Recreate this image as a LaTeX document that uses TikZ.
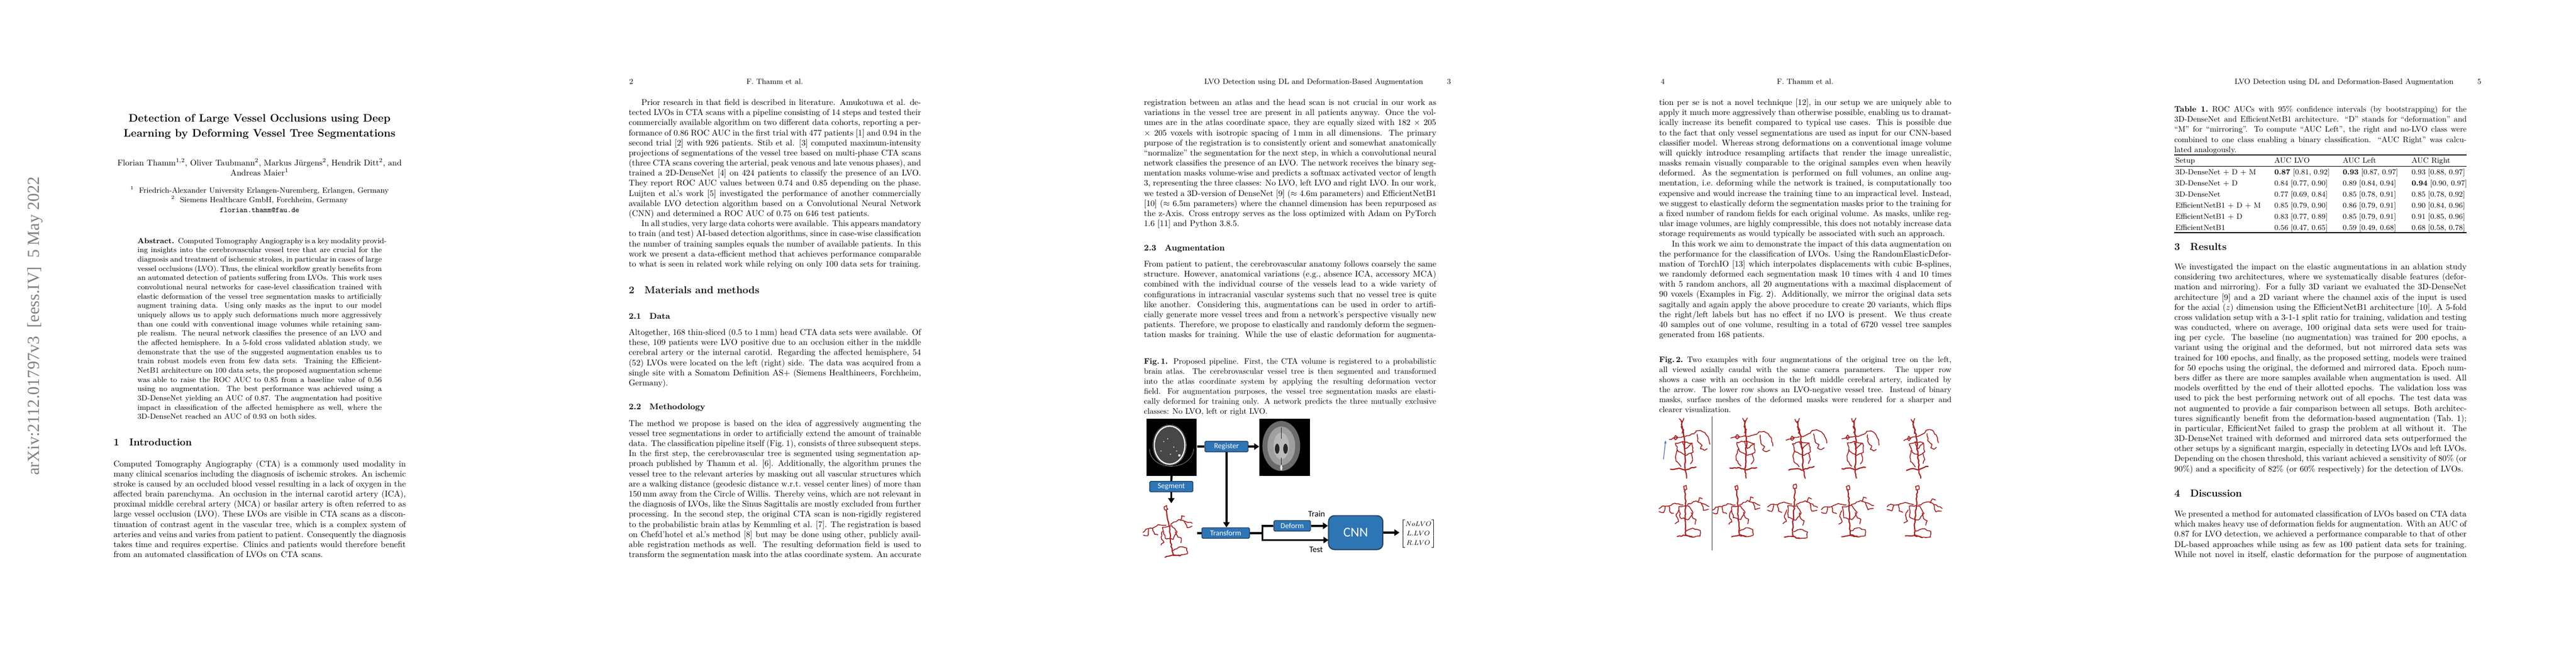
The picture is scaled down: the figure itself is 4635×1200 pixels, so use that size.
\documentclass[tikz,border=0pt]{standalone}
\usepackage{amsmath}
\usepackage{fontspec}
\usepackage{tikz}
\usetikzlibrary{arrows.meta,decorations.pathmorphing}
\newfontfamily\carlito{Carlito}
\newfontfamily\stampfont{Liberation Serif}
\definecolor{stepblue}{RGB}{46,117,182}
\definecolor{stepedge}{RGB}{37,64,97}
\definecolor{vesselred}{RGB}{168,30,30}
\definecolor{arrowblue}{RGB}{68,114,196}

\newcommand{\bodypar}[1]{\vtop{\hsize=12.2cm\parindent=15pt\fontsize{10}{12}\selectfont #1\par}}
\newcommand{\cappar}[1]{\vtop{\hsize=12.2cm\parindent=0pt\fontsize{9.5}{12}\selectfont #1\par}}
\newcommand{\abspar}[1]{\vtop{\hsize=10.2cm\parindent=0pt\fontsize{9}{11}\selectfont #1\par}}
\newcommand{\secthead}[2]{{\fontsize{12}{14}\selectfont\bfseries #1\quad #2}}
\newcommand{\subsecthead}[2]{{\fontsize{10}{12}\selectfont\bfseries #1\quad #2}}
\newcommand{\lb}{\linebreak}

\tikzset{
  txt/.style={inner sep=0pt, anchor=base west},
  runhead/.style={inner sep=0pt, anchor=base, font=\fontsize{9}{11}\selectfont},
  stepbox/.style={draw=stepedge, line width=0.9pt, fill=stepblue, text=white, rounded corners=1.2pt,
    font=\carlito\fontsize{9}{10}\selectfont, inner sep=0pt, minimum width=51.3pt, minimum height=12.5pt},
  cnnbox/.style={draw=stepedge, line width=1.3pt, fill=stepblue, text=white, rounded corners=7pt,
    font=\carlito\fontsize{16}{18}\selectfont, inner sep=0pt, minimum width=64.5pt, minimum height=40.3pt},
  steplabel/.style={inner sep=0pt, font=\carlito\fontsize{10}{12}\selectfont},
  scanbox/.style={fill=black, inner sep=0pt, minimum width=60pt, minimum height=68pt},
  flow/.style={line width=2.4pt},
  flowarrow/.style={flow, -{Triangle[length=6pt,width=7.5pt]}},
  vessel/.style={draw=vesselred, line width=1pt, line cap=round, line join=round,
    decorate, decoration={random steps, segment length=2.6pt, amplitude=0.75pt}},
  vtreeA/.pic={
    \pgfmathsetseed{#1}
    \draw[vessel, line width=1.5pt] (-4,36) -- (-4,12) -- (-5,-19) -- (-9,-40) -- (-10,-50);
    \draw[vessel] (-14,-54) -- (-10,-47) -- (-6,-55);
    \draw[vessel] (-11,-40) -- (-6,-34) -- (-9,-28);
    \draw[vessel, line width=1.4pt] (-30,37) -- (-14,35) -- (-4,38) -- (8,34) -- (16,33);
    \draw[vessel, line width=1.3pt] (-4,38) -- (-1,53);
    \draw[vessel] (-21,-10) -- (-8,-13) -- (9,-10) -- (11,6) -- (-2,12) -- (-16,5) -- cycle;
    \draw[vessel] (-8,-13) -- (-3,0) -- (9,-10);
    \draw[vessel] (-32,-17) -- (-20,-20) -- (-7,-22);
    \draw[vessel] (-24,-19) -- (-21,-24) -- (-17,-20) -- (-21,-16) -- cycle;
    \draw[vessel] (-4,-22) -- (6,-25) -- (12,-27) -- (16,-32);
    \draw[vessel] (16,-32) -- (24,-33) -- (32,-29) -- (38,-20) -- (41,-8);
    \draw[vessel] (18,-26) -- (20,-12) -- (27,-6) -- (24,0) -- (31,3) -- (36,0);
    \draw[vessel] (-18,2) -- (-21,14) -- (-20,22) -- (-11,32);
    \draw[vessel] (7,8) -- (10,20) -- (6,27);
  },
  vtreeB/.pic={
    \pgfmathsetseed{#1}
    \draw[vessel, line width=1.4pt] (0,-44) -- (1,-17) -- (0,10) -- (1,37);
    \draw[vessel] (-2,-44) -- (-3,-50) -- (2,-52) -- (3,-45) -- cycle;
    \draw[vessel] (-4,-17) -- (-18,-20) -- (-29,-15) -- (-41,-15) -- (-47,-10);
    \draw[vessel] (-36,-14) -- (-39,-3) -- (-47,-5);
    \draw[vessel] (-29,-15) -- (-27,-4) -- (-21,-2);
    \draw[vessel] (4,-17) -- (20,-24) -- (29,-20) -- (43,-14);
    \draw[vessel] (29,-20) -- (33,-7) -- (42,-9);
    \draw[vessel] (23,-22) -- (26,-30) -- (31,-28);
    \draw[vessel] (-11,-14) -- (6,-15) -- (14,-3) -- (5,10) -- (-9,6) -- cycle;
    \draw[vessel] (-12,-7) -- (-16,3) -- (-12,13) -- (-18,17);
    \draw[vessel] (11,-3) -- (14,7) -- (20,10) -- (18,18);
    \draw[vessel] (2,30) -- (14,25) -- (27,29) -- (27,39) -- (12,41) -- (2,37);
    \draw[vessel, line width=1.3pt] (-14,40) -- (0,38) -- (14,41);
  }
}

\begin{document}
\begin{tikzpicture}[x=0.66pt, y=-0.66pt]
\fill[white] (0,0) rectangle (4635,1200);
\useasboundingbox (0,0) rectangle (4635,1200);

% page 1
\node[rotate=90, anchor=base east, inner sep=0pt, text=gray,
  font=\stampfont\fontsize{20}{24}\selectfont] (stamp) at (70,318) {arXiv:2112.01797v3\ \ [eess.IV]\ \ 5 May 2022};
\node[runhead, font=\fontsize{13}{16}\selectfont\bfseries] (title1) at (467,219) {Detection of Large Vessel Occlusions using Deep};
\node[runhead, font=\fontsize{13}{16}\selectfont\bfseries] (title2) at (467,246) {Learning by Deforming Vessel Tree Segmentations};
\node[runhead, font=\fontsize{10}{12}\selectfont] (authors1) at (467,298) {Florian Thamm$^{1,2}$, Oliver Taubmann$^2$, Markus Jürgens$^2$, Hendrik Ditt$^2$, and};
\node[runhead, font=\fontsize{10}{12}\selectfont] (authors2) at (467,316) {Andreas Maier$^1$};
\node[runhead] (affil1) at (467,347) {$^1$\ \ Friedrich-Alexander University Erlangen-Nuremberg, Erlangen, Germany};
\node[runhead] (affil2) at (467,364) {$^2$\ \ Siemens Healthcare GmbH, Forchheim, Germany};
\node[runhead, font=\fontsize{9}{11}\selectfont\ttfamily] (email) at (467,382) {florian.thamm@fau.de};
\node[txt] (abstract) at (247.1,438) {\abspar{\textbf{Abstract.}\enspace Computed Tomography Angiography is a key modality provid\-ing insights into the cerebrovascular vessel tree that are crucial for the diagnosis and treatment of ischemic strokes, in particular in cases of large vessel occlusions (LVO). Thus, the clinical workflow greatly benefits from an automated detection of patients suffering from LVOs. This work uses convolutional neural networks for case-level classification trained with elastic deformation of the vessel tree segmentation masks to artificially augment training data. Using only masks as the input to our model uniquely allows us to apply such deformations much more aggressively than one could with conventional image volumes while retaining sample realism. The neural network classifies the presence of an LVO and the affected hemisphere. In a 5-fold cross validated ablation study, we demonstrate that the use of the suggested augmentation enables us to train robust models even from few data sets. Training the EfficientNetB1 architecture on 100 data sets, the proposed augmentation scheme was able to raise the ROC AUC to 0.85 from a baseline value of 0.56 using no augmentation. The best performance was achieved using a 3D-DenseNet yielding an AUC of 0.87. The augmentation had positive impact in classification of the affected hemisphere as well, where the 3D-DenseNet reached an AUC of 0.93 on both sides.}};
\node[txt] (introhead) at (204,802) {\secthead{1}{Introduction}};
\node[txt] (intro) at (204,840) {\bodypar{\noindent Computed Tomography Angiography (CTA) is a commonly used modality in many clinical scenarios including the diagnosis of ischemic strokes. An ischemic stroke is caused by an occluded blood vessel resulting in a lack of oxygen in the affected brain parenchyma. An occlusion in the internal carotid artery (ICA), proximal middle cerebral artery (MCA) or basilar artery is often referred to as large vessel occlusion (LVO). These LVOs are visible in CTA scans as a discontinuation of contrast agent in the vascular tree, which is a complex system of arteries and veins and varies from patient to patient. Consequently the diagnosis takes time and requires expertise. Clinics and patients would therefore benefit from an automated classification of LVOs on CTA scans.}};

% page 2
\begin{scope}[shift={(927,0)}]
\node[txt, font=\fontsize{9}{11}\selectfont] (pnum2) at (205,151) {2};
\node[runhead] (rhead2) at (467,151) {F. Thamm et al.};
\node[txt] (prior) at (204,189.5) {\bodypar{Prior research in that field is described in literature. Amukotuwa et al. de-\lb tected LVOs in CTA scans with a pipeline consisting of 14 steps and tested their \lb commercially available algorithm on two different data cohorts, reporting a per-\lb formance of 0.86 ROC AUC in the first trial with 477 patients [1] and 0.94 in the \lb second trial [2] with 926 patients. Stib et al. [3] computed maximum-intensity \lb projections of segmentations of the vessel tree based on multi-phase CTA scans \lb (three CTA scans covering the arterial, peak venous and late venous phases), and \lb trained a 2D-DenseNet [4] on 424 patients to classify the presence of an LVO. \lb They report ROC AUC values between 0.74 and 0.85 depending on the phase. \lb Luijten et al.'s work [5] investigated the performance of another commercially \lb available LVO detection algorithm based on a Convolutional Neural Network \lb (CNN) and determined a ROC AUC of 0.75 on 646 test patients.\par
In all studies, very large data cohorts were available. This appears mandatory to train (and test) AI-based detection algorithms, since in case-wise classification the number of training samples equals the number of available patients. In this work we present a data-efficient method that achieves performance comparable to what is seen in related work while relying on only 100 data sets for training.}};
\node[txt] (mathead) at (204,528) {\secthead{2}{Materials and methods}};
\node[txt] (datahead) at (204,574) {\subsecthead{2.1}{Data}};
\node[txt] (data) at (204,603.5) {\bodypar{\noindent Altogether, 168 thin-sliced (0.5 to 1\,mm) head CTA data sets were available. Of these, 109 patients were LVO positive due to an occlusion either in the middle cerebral artery or the internal carotid. Regarding the affected hemisphere, 54 (52) LVOs were located on the left (right) side. The data was acquired from a single site with a Somatom Definition AS+ (Siemens Healthineers, Forchheim, Germany).}};
\node[txt] (methhead) at (204,737.7) {\subsecthead{2.2}{Methodology}};
\node[txt] (method) at (204,767.2) {\bodypar{\noindent The method we propose is based on the idea of aggressively augmenting the \lb vessel tree segmentations in order to artificially extend the amount of trainable \lb data. The classification pipeline itself (Fig.~1), consists of three subsequent steps. \lb In the first step, the cerebrovascular tree is segmented using segmentation ap-\lb proach published by Thamm et al. [6]. Additionally, the algorithm prunes the \lb vessel tree to the relevant arteries by masking out all vascular structures which \lb are a walking distance (geodesic distance w.r.t.\ vessel center lines) of more than \lb 150\,mm away from the Circle of Willis. Thereby veins, which are not relevant in \lb the diagnosis of LVOs, like the Sinus Sagittalis are mostly excluded from further \lb processing. In the second step, the original CTA scan is non-rigidly registered \lb to the probabilistic brain atlas by Kemmling et al. [7]. The registration is based \lb on Chefd'hotel et al.'s method [8] but may be done using other, publicly avail-\lb able registration methods as well. The resulting deformation field is used to \lb transform the segmentation mask into the atlas coordinate system. An accurate\parfillskip=0pt}};
\end{scope}

% page 3
\begin{scope}[shift={(1854,0)}]
\node[runhead, anchor=base east] (rhead3) at (707,151) {LVO Detection using DL and Deformation-Based Augmentation};
\node[runhead] (pnum3) at (753,151) {3};
\node[txt] (regtext) at (204,189.5) {\bodypar{\noindent registration between an atlas and the head scan is not crucial in our work as variations in the vessel tree are present in all patients anyway. Once the volumes are in the atlas coordinate space, they are equally sized with 182 $\times$ 205 $\times$ 205 voxels with isotropic spacing of 1\,mm in all dimensions. The primary purpose of the registration is to consistently orient and somewhat anatomically ``normalize'' the segmentation for the next step, in which a convolutional neural network classifies the presence of an LVO. The network receives the binary segmentation masks volume-wise and predicts a softmax activated vector of length 3, representing the three classes: No LVO, left LVO and right LVO. In our work, we tested a 3D-version of DenseNet [9] ($\approx$ 4.6m parameters) and EfficientNetB1 [10] ($\approx$ 6.5m parameters) where the channel dimension has been repurposed as the z-Axis. Cross entropy serves as the loss optimized with Adam on PyTorch 1.6 [11] and Python 3.8.5.}};
\node[txt] (aughead) at (204,451) {\subsecthead{2.3}{Augmentation}};
\node[txt] (augtext) at (204,480.6) {\bodypar{\noindent From patient to patient, the cerebrovascular anatomy follows coarsely the same structure. However, anatomical variations (e.g., absence ICA, accessory MCA) combined with the individual course of the vessels lead to a wide variety of configurations in intracranial vascular systems such that no vessel tree is quite like another. Considering this, augmentations can be used in order to artificially generate more vessel trees and from a network's perspective visually new patients. Therefore, we propose to elastically and randomly deform the segmentation masks for training. While the use of elastic deformation for augmenta-\parfillskip=0pt}};
\node[txt] (figcap1) at (204,655) {\cappar{\textbf{Fig.\,1.} Proposed pipeline. First, the CTA volume is registered to a probabilistic \lb brain atlas. The cerebrovascular vessel tree is then segmented and transformed \lb into the atlas coordinate system by applying the resulting deformation vector \lb field. For augmentation purposes, the vessel tree segmentation masks are elasti-\lb cally deformed for training only. A network predicts the three mutually exclusive \lb classes: No LVO, left or right LVO.}};
% pipeline
\node[scanbox] (cta) at (254,805) {};
\draw[white, line width=1.5pt, fill=black!72] (250.5,801.5) ellipse [x radius=27.6, y radius=34.3];
\draw[gray!80, line width=0.4pt] (250.5,801.5) ellipse [x radius=30, y radius=36.5];
\foreach \sx/\sy in {240/795, 247/790, 258/805, 263/812, 235/812, 252/818}
  \fill[white!80!gray] (\sx,\sy) circle (1.1);
\fill[white] (268,820) circle (2.2);
\draw[gray!70, line width=0.4pt] (214,808) .. controls (216,850) and (290,850) .. (294,808);
\node[scanbox] (atlas) at (457.5,805) {};
\fill[gray!55!black!80] (451.4,803) ellipse [x radius=34, y radius=45];
\fill[gray!75] (451.4,803) ellipse [x radius=25, y radius=35];
\fill[gray!55] (451.4,803) ellipse [x radius=14, y radius=24];
\fill[black!85] (444,808) ellipse [x radius=4, y radius=9];
\fill[black!85] (459,808) ellipse [x radius=4, y radius=9];
\draw[black!85, line width=1pt] (451.4,770) -- (451.4,790) (451.4,824) -- (451.4,846);
\fill[white!85!gray] (451.4,842) ellipse [x radius=2, y radius=5];
\node[stepbox] (reg) at (352.8,804.1) {Register};
\node[stepbox] (seg) at (253.5,876.2) {Segment};
\node[stepbox, minimum width=56.6pt] (trans) at (351.3,959.7) {Transform};
\node[stepbox, minimum width=43.5pt] (def) at (471,946.8) {Deform};
\node[cnnbox] (cnn) at (585.3,959) {CNN};
\node[steplabel] (train) at (515,925) {Train};
\node[steplabel] (test) at (514,990) {Test};
\node[inner sep=0pt, font=\fontsize{8}{11.3}\selectfont] (vec) at (698,961) {$\begin{bmatrix}NoLVO\\ L.LVO\\ R.LVO\end{bmatrix}$};
\pic[rotate=8] at (250.5,962) {vtreeB=11};
\coordinate (treetop) at (253.5,906);
\coordinate (treeout) at (299.6,959.7);
\coordinate (split) at (417.4,959.7);
\coordinate (testin) at (536.4,972.4);
\coordinate (vecin) at (664,959);
\draw[flow] (cta.east |- reg.west) -- (reg.west);
\draw[flowarrow] (reg.east) -- (atlas.west |- reg.east);
\draw[flowarrow] (reg.south) -- (reg.south |- trans.north);
\draw[flow] (cta.south) -- (seg.north);
\draw[flowarrow] (seg.south) -- (treetop);
\draw[flow] (treeout) -- (trans.west);
\draw[flow] (trans.east) -- (split);
\draw[flow] (split) |- (def.west);
\draw[flowarrow] (def.east) -- (cnn.west |- def.east);
\draw[flowarrow] (split) |- (testin);
\draw[flowarrow] (cnn.east) -- (vecin);
\end{scope}

% page 4
\begin{scope}[shift={(2781,0)}]
\node[txt, font=\fontsize{9}{11}\selectfont] (pnum4) at (207,151) {4};
\node[runhead] (rhead4) at (467,151) {F. Thamm et al.};
\node[txt] (augcont) at (204,189.5) {\bodypar{\noindent tion per se is not a novel technique [12], in our setup we are uniquely able to \lb apply it much more aggressively than otherwise possible, enabling us to dramat-\lb ically increase its benefit compared to typical use cases. This is possible due \lb to the fact that only vessel segmentations are used as input for our CNN-based \lb classifier model. Whereas strong deformations on a conventional image volume \lb will quickly introduce resampling artifacts that render the image unrealistic, \lb masks remain visually comparable to the original samples even when heavily \lb deformed. As the segmentation is performed on full volumes, an online aug-\lb mentation, i.e.\ deforming while the network is trained, is computationally too \lb expensive and would increase the training time to an impractical level. Instead, \lb we suggest to elastically deform the segmentation masks prior to the training for \lb a fixed number of random fields for each original volume. As masks, unlike reg-\lb ular image volumes, are highly compressible, this does not notably increase data \lb storage requirements as would typically be associated with such an approach.\par
In this work we aim to demonstrate the impact of this data augmentation on the performance for the classification of LVOs. Using the RandomElasticDeformation of TorchIO [13] which interpolates displacements with cubic B-splines, we randomly deformed each segmentation mask 10 times with 4 and 10 times with 5 random anchors, all 20 augmentations with a maximal displacement of 90 voxels (Examples in Fig.~2). Additionally, we mirror the original data sets sagitally and again apply the above procedure to create 20 variants, which flips the right/left labels but has no effect if no LVO is present. We thus create 40 samples out of one volume, resulting in a total of 6720 vessel tree samples generated from 168 patients.}};
\node[txt] (figcap2) at (204,652) {\cappar{\textbf{Fig.\,2.}\enspace Two examples with four augmentations of the original tree on the left, \lb all viewed axially caudal with the same camera parameters. The upper row \lb shows a case with an occlusion in the left middle cerebral artery, indicated by \lb the arrow. The lower row shows an LVO-negative vessel tree. Instead of binary \lb masks, surface meshes of the deformed masks were rendered for a sharper and \lb clearer visualization.}};
\coordinate (septop) at (299,750);
\coordinate (sepbot) at (299,991);
\draw[black!75, line width=0.6pt] (septop) -- (sepbot);
\pic at (254.7,808) {vtreeA=1};
\pic[rotate=-4, xscale=1.05] at (365.4,808) {vtreeA=2};
\pic[rotate=3] at (465.4,808) {vtreeA=3};
\pic[xscale=0.92, rotate=-2] at (561.9,808) {vtreeA=4};
\pic[xscale=0.85, rotate=4] at (672.6,808) {vtreeA=5};
\pic at (251,926) {vtreeB=6};
\pic[rotate=3, xscale=0.95] at (345.8,926) {vtreeB=7};
\pic[rotate=-3, yscale=1.05] at (445.8,926) {vtreeB=8};
\pic[rotate=2, xscale=1.05] at (545.8,926) {vtreeB=9};
\pic[rotate=-4, xscale=1.1] at (665.4,926) {vtreeB=10};
\coordinate (occfrom) at (212,827);
\coordinate (occto) at (216,793);
\draw[arrowblue, line width=0.8pt, -{Stealth[length=4pt,width=3pt]}] (occfrom) -- (occto);
\end{scope}

% page 5
\begin{scope}[shift={(3708,0)}]
\node[runhead, anchor=base east] (rhead5) at (707,151) {LVO Detection using DL and Deformation-Based Augmentation};
\node[runhead] (pnum5) at (753,151) {5};
\node[txt] (tabcap) at (204,201.5) {\cappar{\textbf{Table 1.}\enspace ROC AUCs with 95\% confidence intervals (by bootstrapping) for the \lb 3D-DenseNet and EfficientNetB1 architecture. ``D'' stands for ``deformation'' and \lb ``M'' for ``mirroring''. To compute ``AUC Left'', the right and no-LVO class were \lb combined to one class enabling a binary classification. ``AUC Right'' was calcu-\lb lated analogously.}};
\draw[line width=0.8pt] (204,279) -- (730,279);
\draw[line width=0.5pt] (204,299) -- (730,299);
\draw[line width=0.8pt] (204,419) -- (730,419);
\foreach \cx/\ct [count=\c] in {206/Setup, 384/AUC LVO, 507/AUC Left, 631/AUC Right}
  \node[txt, font=\fontsize{9}{11}\selectfont] (th\c) at (\cx,293) {\ct};
\foreach \su/\lv/\lf/\rt [count=\r] in {
  {3D-DenseNet + D + M}/{\textbf{0.87} [0.81, 0.92]}/{\textbf{0.93} [0.87, 0.97]}/{0.93 [0.88, 0.97]},
  {3D-DenseNet + D}/{0.84 [0.77, 0.90]}/{0.89 [0.84, 0.94]}/{\textbf{0.94} [0.90, 0.97]},
  {3D-DenseNet}/{0.77 [0.69, 0.84]}/{0.85 [0.78, 0.91]}/{0.85 [0.78, 0.92]},
  {EfficientNetB1 + D + M}/{0.85 [0.79, 0.90]}/{0.86 [0.79, 0.91]}/{0.90 [0.84, 0.96]},
  {EfficientNetB1 + D}/{0.83 [0.77, 0.89]}/{0.85 [0.79, 0.91]}/{0.91 [0.85, 0.96]},
  {EfficientNetB1}/{0.56 [0.47, 0.65]}/{0.59 [0.49, 0.68]}/{0.68 [0.58, 0.78]}} {
  \node[txt, font=\fontsize{9}{11}\selectfont] (su\r) at (206,294+20*\r) {\su};
  \node[txt, font=\fontsize{9}{11}\selectfont] (lv\r) at (384,294+20*\r) {\lv};
  \node[txt, font=\fontsize{9}{11}\selectfont] (lf\r) at (507,294+20*\r) {\lf};
  \node[txt, font=\fontsize{9}{11}\selectfont] (rt\r) at (631,294+20*\r) {\rt};
}
\node[txt] (reshead) at (204,450) {\secthead{3}{Results}};
\node[txt] (results) at (204,485.5) {\bodypar{\noindent We investigated the impact on the elastic augmentations in an ablation study considering two architectures, where we systematically disable features (deformation and mirroring). For a fully 3D variant we evaluated the 3D-DenseNet architecture [9] and a 2D variant where the channel axis of the input is used for the axial ($z$) dimension using the EfficientNetB1 architecture [10]. A 5-fold cross validation setup with a 3-1-1 split ratio for training, validation and testing was conducted, where on average, 100 original data sets were used for training per cycle. The baseline (no augmentation) was trained for 200 epochs, a variant using the original and the deformed, but not mirrored data sets was trained for 100 epochs, and finally, as the proposed setting, models were trained for 50 epochs using the original, the deformed and mirrored data. Epoch numbers differ as there are more samples available when augmentation is used. All models overfitted by the end of their allotted epochs. The validation loss was used to pick the best performing network out of all epochs. The test data was not augmented to provide a fair comparison between all setups. Both architectures significantly benefit from the deformation-based augmentation (Tab.~1); in particular, EfficientNet failed to grasp the problem at all without it. The 3D-DenseNet trained with deformed and mirrored data sets outperformed the other setups by a significant margin, especially in detecting LVOs and left LVOs. Depending on the chosen threshold, this variant achieved a sensitivity of 80\% (or 90\%) and a specificity of 82\% (or 60\% respectively) for the detection of LVOs.}};
\node[txt] (dischead) at (204,894) {\secthead{4}{Discussion}};
\node[txt] (discuss) at (204,930.5) {\bodypar{\noindent We presented a method for automated classification of LVOs based on CTA data which makes heavy use of deformation fields for augmentation. With an AUC of 0.87 for LVO detection, we achieved a performance comparable to that of other DL-based approaches while using as few as 100 patient data sets for training. While not novel in itself, elastic deformation for the purpose of augmentation\parfillskip=0pt}};
\end{scope}
\end{tikzpicture}
\end{document}
